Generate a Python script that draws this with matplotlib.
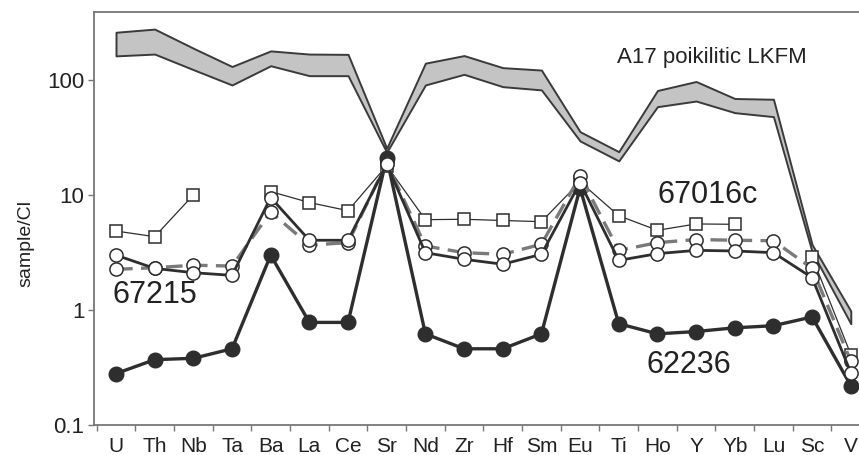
import numpy as np
import matplotlib
matplotlib.use("Agg")
import matplotlib.pyplot as plt
from matplotlib.ticker import FixedLocator, NullLocator, NullFormatter

plt.rcParams['font.family'] = ['Liberation Sans', 'DejaVu Sans']

elements = ["U", "Th", "Nb", "Ta", "Ba", "La", "Ce", "Sr", "Nd", "Zr", "Hf", "Sm",
            "Eu", "Ti", "Ho", "Y", "Yb", "Lu", "Sc", "V"]

# A17 poikilitic LKFM band (upper / lower bounds)
lkfm_upper = [260, 277, 189, 131, 179, 168, 167, 25.5, 140, 163, 128, 122,
              35.5, 23.8, 81, 97, 69, 68, 3.7, 0.98]
lkfm_lower = [162, 168, 123, 90.5, 133, 109, 109, 23.5, 90.5, 112, 87.5, 82,
              29.5, 19.8, 58.6, 65.6, 52, 48, 3.2, 0.76]

# 62236 (filled circles)
s62236 = [0.28, 0.37, 0.38, 0.46, 3.0, 0.78, 0.78, 21, 0.62, 0.46, 0.46, 0.62,
          11.5, 0.76, 0.62, 0.65, 0.70, 0.73, 0.87, 0.22]

# 67016c (open squares, gaps where not analysed)
s67016c = [4.86, 4.34, 10.0, np.nan, 10.7, 8.6, 7.3, 18, 6.1, 6.15, 6.0, 5.86,
           13, 6.6, 4.93, 5.6, 5.56, np.nan, 2.9, 0.41]

# 67215 (open circles, solid line)
s67215_a = [3.0, 2.3, 2.11, 2.0, 9.5, 4.04, 4.04, 18.5, 3.15, 2.76, 2.5, 3.05,
            12.8, 2.7, 3.09, 3.3, 3.26, 3.15, 1.91, 0.285]

# 67215 (open circles, dashed line)
s67215_b = [2.26, 2.33, 2.45, 2.41, 7.1, 3.67, 3.85, 19, 3.6, 3.15, 3.05, 3.73,
            14.6, 3.3, 3.85, 4.1, 4.04, 4.0, 2.3, 0.36]

y_ticks = [0.1, 1, 10, 100]
y_ticklabels = ["0.1", "1", "10", "100"]

dark = "#2e2e2e"
x = np.arange(len(elements))

fig = plt.figure(figsize=(8.59, 4.55), dpi=100)
ax = fig.add_axes([94 / 859, 30 / 455, 780 / 859, 413 / 455])

ax.fill_between(x, lkfm_lower, lkfm_upper, facecolor="#c4c4c4",
                edgecolor="#3a3a3a", linewidth=1.4, zorder=1)

ax.plot(x, s62236, color=dark, lw=2.4, marker="o", ms=10.5,
        mfc=dark, mec=dark, zorder=2)

ax.plot(x, s67016c, color=dark, lw=0.9, marker="s", ms=9,
        mfc="white", mec=dark, mew=1.1, zorder=3)

ax.plot(x, s67215_b, color="#7a7a7a", lw=2.4, ls=(0, (5, 2.5)), zorder=4)
ax.plot(x, s67215_b, ls="none", marker="o", ms=9.5, mfc="white", mec=dark,
        mew=1.1, zorder=5)

ax.plot(x, s67215_a, color=dark, lw=2.0, marker="o", ms=9.5,
        mfc="white", mec=dark, mew=1.1, zorder=6)

ax.set_yscale("log")
ax.set_ylim(0.1, 390)
ax.set_xlim(-0.569, 19.6)

ax.yaxis.set_major_locator(FixedLocator(y_ticks))
ax.set_yticklabels(y_ticklabels)
ax.yaxis.set_minor_locator(NullLocator())
ax.yaxis.set_minor_formatter(NullFormatter())

ax.set_xticks(x)
ax.set_xticklabels(elements)
ax.xaxis.set_minor_locator(FixedLocator(np.arange(len(elements) + 1) - 0.5))

ax.tick_params(axis="x", which="major", length=0, labelsize=15,
               pad=9, labelcolor="#222222")
ax.tick_params(axis="x", which="minor", length=4, width=1.0,
               color="#777777", direction="out")
ax.tick_params(axis="y", which="major", length=4, width=1.0,
               color="#777777", labelsize=16, labelcolor="#222222", pad=3)

for s in ax.spines.values():
    s.set_color("#777777")
    s.set_linewidth(1.3)

ax.set_ylabel("sample/Cl", fontsize=14, color="#222222")
ax.yaxis.set_label_coords(-0.076, 0.44)

ax.text(12.95, 158, "A17 poikilitic LKFM", fontsize=16, color="#222222",
        ha="left", va="center")
ax.text(13.99, 10, "67016c", fontsize=22, color="#222222", ha="left", va="center")
ax.text(-0.08, 1.35, "67215", fontsize=22, color="#222222", ha="left", va="center")
ax.text(13.72, 0.33, "62236", fontsize=22, color="#222222", ha="left", va="center")

fig.savefig("out.png", dpi=100)
